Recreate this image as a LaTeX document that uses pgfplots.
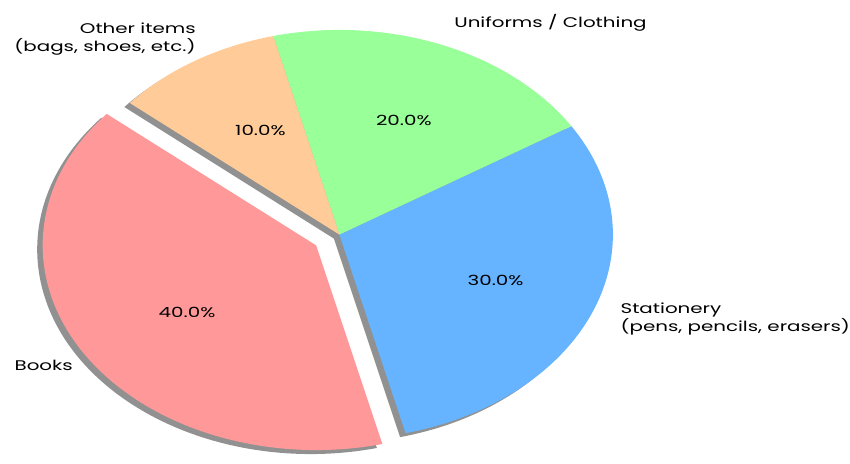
\documentclass[border=0pt]{standalone}
\usepackage{pgfplots}
\usepackage{pgfplotstable}
\pgfplotsset{compat=1.18}
\usepackage{fontspec}
\setmainfont{Poppins}

\definecolor{cBooks}{HTML}{FF9999}
\definecolor{cStat}{HTML}{66B3FF}
\definecolor{cUni}{HTML}{99FF99}
\definecolor{cOther}{HTML}{FFCC99}
\definecolor{cShadow}{RGB}{145,145,145}

% shares in percent: Books, Stationery, Uniforms, Other
\pgfplotstableread{
value
40
30
20
10
}\piedata

\begin{document}
\begin{tikzpicture}[lbl/.style={font=\fontsize{14}{18}\selectfont, xscale=1.42, inner sep=0pt}]
\pgfplotstablegetelem{0}{value}\of\piedata \let\vA\pgfplotsretval
\pgfplotstablegetelem{1}{value}\of\piedata \let\vB\pgfplotsretval
\pgfplotstablegetelem{2}{value}\of\piedata \let\vC\pgfplotsretval
\pgfplotstablegetelem{3}{value}\of\piedata \let\vD\pgfplotsretval
% centre and radii in axis units (1 unit = 1pt)
\def\cx{340}\def\cy{219}\def\rx{274}\def\ry{205}
\pgfmathsetmacro\aA{140}
\pgfmathsetmacro\aB{\aA+3.6*\vA}
\pgfmathsetmacro\aC{\aB+3.6*\vB}
\pgfmathsetmacro\aD{\aC+3.6*\vC}
\pgfmathsetmacro\aE{\aD+3.6*\vD}
% explode books by 0.1 r
\pgfmathsetmacro\mA{(\aA+\aB)/2}
\pgfmathsetmacro\bx{\cx+0.1*\rx*cos(\mA)}
\pgfmathsetmacro\by{\cy+0.1*\ry*sin(\mA)}
\def\sx{-5.5}\def\sy{-4}
\begin{axis}[
  width=850pt, height=454pt, scale only axis,
  xmin=0, xmax=850, ymin=0, ymax=454,
  axis line style={draw=none}, ticks=none,
  clip=false,
]
% shadows
\fill[cShadow] (axis cs:{\bx+\sx},{\by+\sy}) -- (axis cs:{\bx+\sx+\rx*cos(\aA)},{\by+\sy+\ry*sin(\aA)})
  arc[start angle=\aA, end angle=\aB, x radius=\rx pt, y radius=\ry pt] -- cycle;
\fill[cShadow] (axis cs:{\cx+\sx},{\cy+\sy}) -- (axis cs:{\cx+\sx+\rx*cos(\aB)},{\cy+\sy+\ry*sin(\aB)})
  arc[start angle=\aB, end angle=\aE, x radius=\rx pt, y radius=\ry pt] -- cycle;
% wedges
\fill[cBooks] (axis cs:\bx,\by) -- (axis cs:{\bx+\rx*cos(\aA)},{\by+\ry*sin(\aA)})
  arc[start angle=\aA, end angle=\aB, x radius=\rx pt, y radius=\ry pt] -- cycle;
\fill[cStat] (axis cs:\cx,\cy) -- (axis cs:{\cx+\rx*cos(\aB)},{\cy+\ry*sin(\aB)})
  arc[start angle=\aB, end angle=\aC, x radius=\rx pt, y radius=\ry pt] -- cycle;
\fill[cUni] (axis cs:\cx,\cy) -- (axis cs:{\cx+\rx*cos(\aC)},{\cy+\ry*sin(\aC)})
  arc[start angle=\aC, end angle=\aD, x radius=\rx pt, y radius=\ry pt] -- cycle;
\fill[cOther] (axis cs:\cx,\cy) -- (axis cs:{\cx+\rx*cos(\aD)},{\cy+\ry*sin(\aD)})
  arc[start angle=\aD, end angle=\aE, x radius=\rx pt, y radius=\ry pt] -- cycle;
% percentages
\node[lbl] at (axis cs:{\bx+0.6*\rx*cos(\mA)+10},{\by+0.6*\ry*sin(\mA)-2}) {40.0\%};
\node[lbl] at (axis cs:{\cx+0.6*\rx*cos((\aB+\aC)/2)+4},{\cy+0.6*\ry*sin((\aB+\aC)/2)}) {30.0\%};
\node[lbl] at (axis cs:{\cx+0.6*\rx*cos((\aC+\aD)/2)+3},{\cy+0.6*\ry*sin((\aC+\aD)/2)}) {20.0\%};
\node[lbl] at (axis cs:{\cx+0.6*\rx*cos((\aD+\aE)/2)+8},{\cy+0.6*\ry*sin((\aD+\aE)/2)}) {10.0\%};
% category labels
\node[lbl, anchor=east] at (axis cs:{\bx+1.1*\rx*cos(\mA)+12},{\by+1.1*\ry*sin(\mA)-1}) {Books};
\node[lbl, anchor=west, align=left] at (axis cs:{\cx+1.1*\rx*cos((\aB+\aC)/2)+2},{\cy+1.1*\ry*sin((\aB+\aC)/2)}) {Stationery\\(pens, pencils, erasers)};
\node[lbl, anchor=west] at (axis cs:{\cx+1.1*\rx*cos((\aC+\aD)/2)+2},{\cy+1.1*\ry*sin((\aC+\aD)/2)+3}) {Uniforms / Clothing};
\node[lbl, anchor=east, align=right] at (axis cs:{\cx+1.1*\rx*cos((\aD+\aE)/2)+16},{\cy+1.1*\ry*sin((\aD+\aE)/2)+5}) {Other items\\(bags, shoes, etc.)};
\end{axis}
\end{tikzpicture}
\end{document}
